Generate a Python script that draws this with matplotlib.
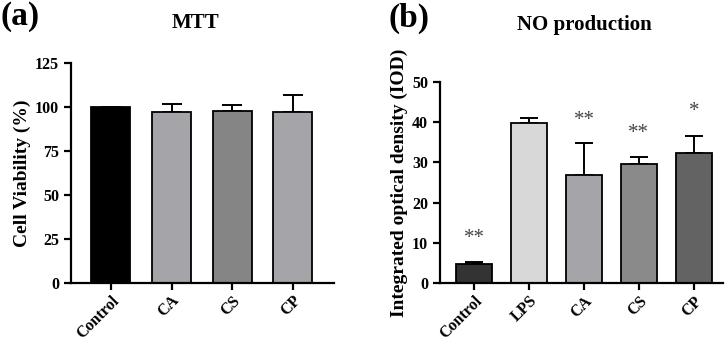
import numpy as np
import matplotlib.pyplot as plt

plt.rcParams['font.family'] = ['Liberation Serif', 'DejaVu Serif']
plt.rcParams['font.weight'] = 'bold'

# panel (a) MTT
mtt_groups = ["Control", "CA", "CS", "CP"]
mtt_values = [100, 97, 98, 97.3]
mtt_err = [0, 4.8, 3.3, 9.3]
mtt_colors = ["#000000", "#a5a5a9", "#858585", "#a5a5a9"]

# panel (b) NO production
no_groups = ["Control", "LPS", "CA", "CS", "CP"]
no_values = [4.7, 39.8, 26.8, 29.6, 32.2]
no_err = [0.5, 1.2, 8.0, 1.6, 4.3]
no_colors = ["#333333", "#d8d8d8", "#a5a5a9", "#8a8a8a", "#636363"]
no_stars = ["**", "", "**", "**", "*"]
no_star_y = [11.0, None, 40.3, 37.2, 42.5]

fig = plt.figure(figsize=(7.26, 3.43), dpi=100)
ax1 = fig.add_axes([0.0978, 0.175, 0.362, 0.641])
ax2 = fig.add_axes([0.606, 0.174, 0.390, 0.588])


def style(ax):
    for s in ["top", "right"]:
        ax.spines[s].set_visible(False)
    for s in ["left", "bottom"]:
        ax.spines[s].set_linewidth(1.6)
    ax.tick_params(axis="both", width=1.6, length=5)
    ax.tick_params(axis="y", labelsize=11.5)
    ax.tick_params(axis="x", labelsize=11.5, pad=2)
    for lab in ax.get_yticklabels():
        lab.set_fontweight("bold")


x1 = np.arange(len(mtt_groups))
ax1.bar(x1, mtt_values, width=0.645, color=mtt_colors, edgecolor="black", linewidth=1.3, zorder=2)
ax1.errorbar(x1, mtt_values, yerr=[[0] * len(x1), mtt_err], fmt="none", ecolor="black",
             elinewidth=1.4, capsize=7, capthick=1.4, zorder=1)
ax1.set_xlim(-0.66, 3.68)
ax1.set_ylim(0, 125)
ax1.set_yticks([0, 25, 50, 75, 100, 125])
ax1.set_xticks(x1)
ax1.set_xticklabels(mtt_groups, rotation=45, ha="right", rotation_mode="anchor", fontweight="bold")
ax1.set_ylabel("Cell Viability (%)", fontsize=14, fontweight="bold", labelpad=3)
style(ax1)

x2 = np.arange(len(no_groups))
ax2.bar(x2, no_values, width=0.66, color=no_colors, edgecolor="black", linewidth=1.3, zorder=2)
ax2.errorbar(x2, no_values, yerr=[[0] * len(x2), no_err], fmt="none", ecolor="black",
             elinewidth=1.4, capsize=6.5, capthick=1.4, zorder=1)
for xi, st, sy in zip(x2, no_stars, no_star_y):
    if st:
        ax2.text(xi, sy, st, ha="center", va="center", fontsize=15, fontweight="normal", color="#444444")
ax2.set_xlim(-0.62, 4.53)
ax2.set_ylim(0, 50)
ax2.set_yticks([0, 10, 20, 30, 40, 50])
ax2.set_xticks(x2)
ax2.set_xticklabels(no_groups, rotation=45, ha="right", rotation_mode="anchor", fontweight="bold")
ax2.set_ylabel("Integrated optical density (IOD)", fontsize=14, fontweight="bold", labelpad=3)
style(ax2)

fig.text(196 / 726, 1 - 23 / 343, "MTT", ha="center", va="center", fontsize=15, fontweight="bold")
fig.text(584 / 726, 1 - 25 / 343, "NO production", ha="center", va="center", fontsize=15, fontweight="bold")
fig.text(0.0, 1 - 16 / 343, "(a)", ha="left", va="center", fontsize=24, fontweight="bold")
fig.text(389 / 726, 1 - 18 / 343, "(b)", ha="left", va="center", fontsize=24, fontweight="bold")

plt.savefig("out.png", dpi=100)
